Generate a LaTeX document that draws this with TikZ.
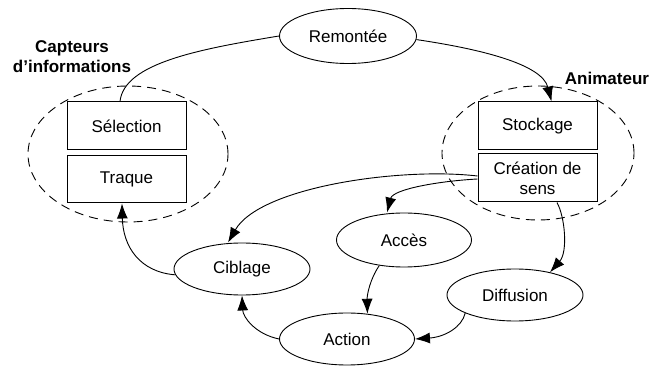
\documentclass[tikz,border=0pt]{standalone}
\usepackage{fontspec}
\setmainfont{Liberation Sans}
\usetikzlibrary{shapes.geometric,arrows.meta}
\begin{document}
\begin{tikzpicture}[x=1pt,y=1pt,
  every node/.style={font=\fontsize{17}{20}\selectfont, text=black},
  oval/.style={draw, ellipse, line width=0.9pt, inner sep=0pt, minimum width=136pt, minimum height=52pt},
  grp/.style={draw, ellipse, dash pattern=on 9pt off 6pt, line width=0.9pt, inner sep=0pt},
  box/.style={draw, rectangle, line width=1pt, fill=white, inner sep=0pt, minimum width=119pt, minimum height=48pt, align=center},
  lbl/.style={font=\fontsize{17}{20}\selectfont\bfseries, align=center},
  arr/.style={line width=0.9pt, -{Latex[length=15pt,width=11pt]}},
  con/.style={line width=0.9pt}]
\useasboundingbox (0,0) rectangle (654,367);

% groups
\node[grp, minimum width=200pt, minimum height=136pt] (gL) at (128,213) {};
\node[grp, minimum width=192pt, minimum height=134pt] (gR) at (538,214) {};

% labels
\node[lbl] (capt) at (72,310) {Capteurs\\d’informations};
\node[lbl] (anim) at (607,289) {Animateur};

% boxes
\node[box] (sel) at (126.5,241) {Sélection};
\node[box, minimum height=47pt] (traq) at (126.5,187.5) {Traque};
\node[box] (stock) at (537.5,241) {Stockage};
\node[box] (crea) at (537.5,189) {Création de\\sens};

% ovals
\node[oval, minimum width=137pt, minimum height=55pt] (rem) at (348,331) {Remontée};
\node[oval] (cib) at (242,98) {Ciblage};
\node[oval, minimum width=135pt] (act) at (347,28) {Action};
\node[oval, minimum width=135pt, minimum height=54pt] (acc) at (404,127) {Accès};
\node[oval] (dif) at (515,72) {Diffusion};

% connectors
\draw[arr] (rem.-3) .. controls (480,318) and (542,303) .. ([xshift=14pt]stock.north);
\draw[con] (rem.west) .. controls (200,318) and (124,304) .. ([xshift=-6.5pt]sel.north);
\draw[arr] ([yshift=2pt]crea.west) .. controls (400,200) and (260,180) .. ([xshift=-14pt]cib.north);
\draw[arr] ([yshift=-1pt]crea.west) .. controls (440,186) and (393,178) .. ([xshift=-17pt]acc.north);
\draw[arr] ([xshift=19.5pt]crea.south) .. controls (565,150) and (568,115) .. (dif.33);
\draw[arr] (acc.-134) .. controls (370,88) and (367,72) .. (act.51);
\draw[arr] (dif.-160) .. controls (462,40) and (445,30) .. (act.east);
\draw[arr] (act.west) .. controls (255,33) and (243,50) .. (cib.south);
\draw[arr] (cib.185) .. controls (140,95) and (123,120) .. ([xshift=-4.5pt]traq.south);
\end{tikzpicture}
\end{document}
